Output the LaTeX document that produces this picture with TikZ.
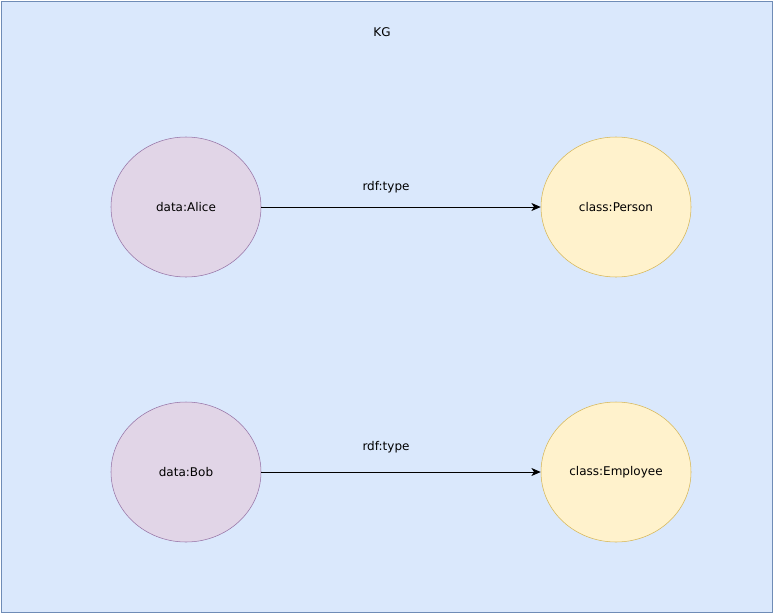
\documentclass[tikz,border=0pt]{standalone}
\usepackage{fontspec}
\setmainfont{DejaVu Sans}
\usepackage{xcolor}
\usepackage{tikz}
\usetikzlibrary{arrows.meta, shapes.geometric}

\definecolor{kgfill}{HTML}{DAE8FC}
\definecolor{kgline}{HTML}{6C8EBF}
\definecolor{datafill}{HTML}{E1D5E7}
\definecolor{dataline}{HTML}{9673A6}
\definecolor{classfill}{HTML}{FFF2CC}
\definecolor{classline}{HTML}{D6B656}

\begin{document}
\begin{tikzpicture}[x=0.75pt, y=-0.75pt, font=\fontsize{9}{11}\selectfont,
    datanode/.style={ellipse, draw=dataline, fill=datafill, minimum width=112.5pt, minimum height=105pt, inner sep=0pt},
    classnode/.style={ellipse, draw=classline, fill=classfill, minimum width=112.5pt, minimum height=105pt, inner sep=0pt},
    typeedge/.style={-{Stealth[length=7pt,width=6pt,inset=2pt]}, line width=0.75pt}]
        \useasboundingbox (0,0) rectangle (774,614);

        % Draw the graph box
        \draw[kgline!85!gray, fill=kgfill, line width=0.75pt] (1,1) rectangle (772,612);
        \node (kg) at (382,32) {KG};

        % Instances on the left
        \node[datanode] (alice) at (186,207) {data:Alice};
        \node[datanode] (bob) at (186,472) {data:Bob};

        % Classes on the right
        \node[classnode] (person) at (616,207) {class:Person};
        \node[classnode] (employee) at (616,472) {class:Employee};

        % Type links
        \draw[typeedge] (alice) -- (person);
        \node (type1) at (386,187) {rdf:type};
        \draw[typeedge] (bob) -- (employee);
        \node (type2) at (386,447) {rdf:type};

    \end{tikzpicture}
\end{document}
